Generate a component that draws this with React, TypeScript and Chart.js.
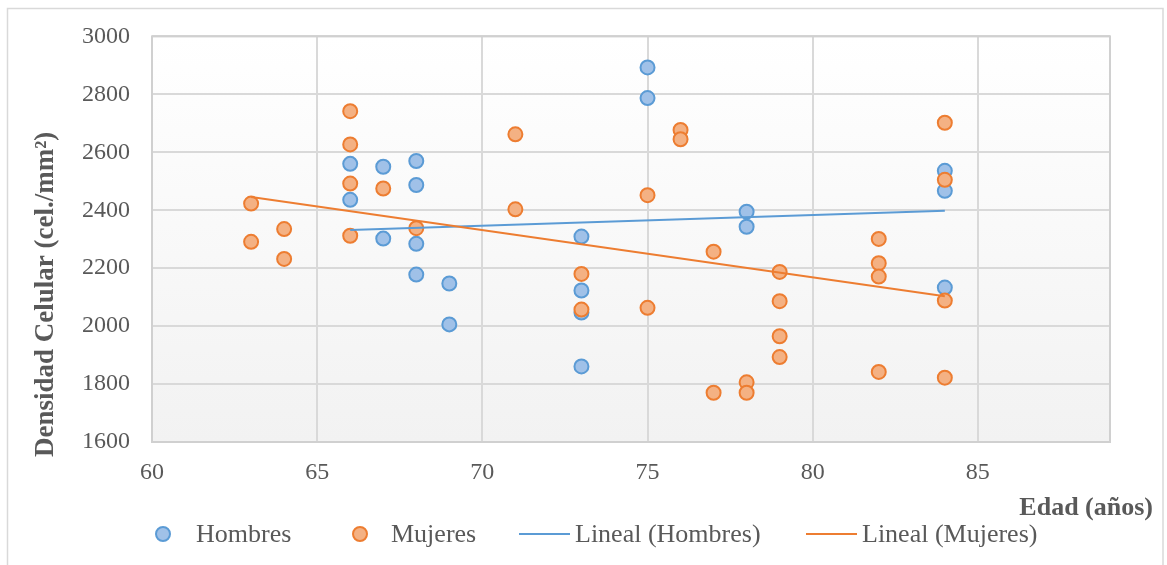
import React, { useEffect, useRef } from "react";
import { Chart, registerables } from "chart.js";

Chart.register(...registerables);

// ---- Data ----
const hombresX = [66, 66, 67, 67, 68, 68, 68, 68, 69, 69, 73, 73, 73, 73, 75, 75, 78, 78, 84, 84, 84];
const hombresY = [2560, 2436, 2550, 2302, 2570, 2487, 2284, 2178, 2147, 2006, 2309, 2123, 2047, 1861, 2893, 2787, 2395, 2343, 2536, 2467, 2133];

const mujeresX = [63, 63, 64, 64, 66, 66, 66, 66, 67, 68, 71, 71, 73, 73, 75, 75, 76, 76, 77, 77, 78, 78, 79, 79, 79, 79, 82, 82, 82, 82, 84, 84, 84, 84];
const mujeresY = [2423, 2291, 2335, 2232, 2742, 2627, 2492, 2312, 2475, 2338, 2662, 2403, 2180, 2057, 2452, 2063, 2677, 2645, 2257, 1770, 1806, 1770, 2187, 2086, 1965, 1893, 2301, 2217, 2171, 1842, 2702, 2505, 2088, 1822];

// Linear trend lines (end values)
const trendHombresX = [66, 84];
const trendHombresY = [2332, 2398];
const trendMujeresX = [63, 84];
const trendMujeresY = [2446, 2103];

const xMin = 60;
const xMax = 89;
const xStep = 5;
const yMin = 1600;
const yMax = 3000;
const yStep = 200;

const seriesNames = ["Hombres", "Mujeres", "Lineal (Hombres)", "Lineal (Mujeres)"];
const xTitle = "Edad (años)";
const yTitle = "Densidad Celular (cel./mm²)";

const BLUE = "#5b9bd5";
const BLUE_FILL = "#a0c1e8";
const ORANGE = "#ed7d31";
const ORANGE_FILL = "#f4b183";
const TEXT = "#595959";
const GRID = "#d9d9d9";
const FONT = "'Liberation Serif', 'Times New Roman', serif";

const zip = (xs: number[], ys: number[]) => xs.map((x, i) => ({ x, y: ys[i] }));

const decor = {
  id: "decor",
  beforeDraw(chart: any) {
    const { ctx, chartArea: a, width, height } = chart;
    ctx.save();
    ctx.fillStyle = "#ffffff";
    ctx.fillRect(0, 0, width, height);
    // outer frame
    ctx.strokeStyle = "#d9d9d9";
    ctx.lineWidth = 1.5;
    ctx.strokeRect(7.5, 8.5, 1155.5, height + 20);
    // plot area gradient
    const g = ctx.createLinearGradient(0, a.top, 0, a.bottom);
    g.addColorStop(0, "#ffffff");
    g.addColorStop(1, "#f2f2f2");
    ctx.fillStyle = g;
    ctx.fillRect(a.left, a.top, a.right - a.left, a.bottom - a.top);
    ctx.restore();
  },
  beforeDatasetsDraw(chart: any) {
    const { ctx, chartArea: a } = chart;
    ctx.save();
    ctx.strokeStyle = "#d0d0d0";
    ctx.lineWidth = 2;
    ctx.strokeRect(a.left, a.top, a.right - a.left, a.bottom - a.top);
    ctx.restore();
  },
  afterDraw(chart: any) {
    const { ctx } = chart;
    ctx.save();
    ctx.fillStyle = TEXT;
    // x title
    ctx.font = `bold 26px ${FONT}`;
    ctx.textAlign = "right";
    ctx.textBaseline = "alphabetic";
    ctx.fillText(xTitle, 1153, 515);
    // y title
    ctx.save();
    ctx.translate(53, 457);
    ctx.rotate(-Math.PI / 2);
    ctx.font = `bold 27px ${FONT}`;
    ctx.textAlign = "left";
    ctx.fillText(yTitle, 0, 0);
    ctx.restore();

    // legend
    const ly = 534;
    const base = 542;
    ctx.font = `26px ${FONT}`;
    ctx.textAlign = "left";
    const circle = (cx: number, fill: string, stroke: string) => {
      ctx.beginPath();
      ctx.arc(cx, ly, 7, 0, Math.PI * 2);
      ctx.fillStyle = fill;
      ctx.fill();
      ctx.lineWidth = 2;
      ctx.strokeStyle = stroke;
      ctx.stroke();
    };
    const line = (x1: number, x2: number, color: string) => {
      ctx.beginPath();
      ctx.moveTo(x1, ly);
      ctx.lineTo(x2, ly);
      ctx.lineWidth = 2;
      ctx.strokeStyle = color;
      ctx.stroke();
    };
    circle(163, BLUE_FILL, BLUE);
    ctx.fillStyle = TEXT;
    ctx.fillText(seriesNames[0], 196, base);
    circle(360, ORANGE_FILL, ORANGE);
    ctx.fillStyle = TEXT;
    ctx.fillText(seriesNames[1], 391, base);
    line(519, 570, BLUE);
    ctx.fillStyle = TEXT;
    ctx.fillText(seriesNames[2], 575, base);
    line(806, 857, ORANGE);
    ctx.fillStyle = TEXT;
    ctx.fillText(seriesNames[3], 862, base);
    ctx.restore();
  },
};

export default function App() {
  const ref = useRef<HTMLCanvasElement | null>(null);

  useEffect(() => {
    if (!ref.current) return;
    Chart.defaults.font.family = FONT;
    const chart = new Chart(ref.current, {
      type: "scatter",
      data: {
        datasets: [
          {
            label: seriesNames[3],
            data: zip(trendMujeresX, trendMujeresY),
            showLine: true,
            borderColor: ORANGE,
            borderWidth: 2,
            pointRadius: 0,
            order: 0,
          } as any,
          {
            label: seriesNames[2],
            data: zip(trendHombresX, trendHombresY),
            showLine: true,
            borderColor: BLUE,
            borderWidth: 2,
            pointRadius: 0,
            order: 1,
          } as any,
          {
            label: seriesNames[1],
            data: zip(mujeresX, mujeresY),
            backgroundColor: ORANGE_FILL,
            borderColor: ORANGE,
            borderWidth: 2,
            pointRadius: 7,
            order: 2,
          },
          {
            label: seriesNames[0],
            data: zip(hombresX, hombresY),
            backgroundColor: BLUE_FILL,
            borderColor: BLUE,
            borderWidth: 2,
            pointRadius: 7,
            order: 3,
          },
        ],
      },
      options: {
        responsive: false,
        animation: false,
        events: [],
        layout: { padding: { left: 0, top: 35, right: 57, bottom: 0 } },
        plugins: {
          legend: { display: false },
          tooltip: { enabled: false },
        },
        scales: {
          x: {
            type: "linear",
            min: xMin,
            max: xMax,
            border: { display: false },
            grid: { color: GRID, lineWidth: 2, drawTicks: false },
            ticks: {
              stepSize: xStep,
              includeBounds: false,
              color: TEXT,
              padding: 16,
              font: { size: 24, family: FONT },
              maxRotation: 0,
              autoSkip: false,
              callback: (v: any) => String(v),
            },
            afterFit(scale: any) {
              scale.height = 123;
            },
          },
          y: {
            type: "linear",
            min: yMin,
            max: yMax,
            border: { display: false },
            grid: { color: GRID, lineWidth: 2, drawTicks: false },
            ticks: {
              stepSize: yStep,
              color: TEXT,
              padding: 22,
              font: { size: 24, family: FONT },
              callback: (v: any) => String(v),
            },
            afterFit(scale: any) {
              scale.width = 152;
            },
          },
        },
      },
      plugins: [decor],
    });
    return () => chart.destroy();
  }, []);

  return (
    <div style={{ position: "fixed", left: 0, top: 0, width: 1167, height: 565 }}>
      <canvas ref={ref} width={1167} height={565} />
    </div>
  );
}
